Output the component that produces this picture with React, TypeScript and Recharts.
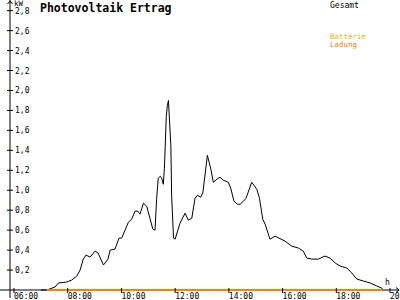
import { Line, LineChart, XAxis, YAxis } from "recharts";

document.body.style.margin = "0";

// Zeit in Stunden (dezimal) und Leistung in kW
const hours = [
  7.0, 7.22, 7.53, 7.65, 7.96, 8.15, 8.34, 8.46, 8.58, 8.68, 8.83, 9.02, 9.13, 9.33, 9.5, 9.58,
  9.76, 9.91, 10.01, 10.26, 10.38, 10.51, 10.61, 10.69, 10.82, 10.94, 11.17, 11.25, 11.31, 11.37,
  11.45, 11.5, 11.56, 11.6, 11.63, 11.67, 11.71, 11.75, 11.84, 11.87, 11.94, 12.0, 12.18, 12.37,
  12.49, 12.62, 12.74, 12.83, 12.95, 13.03, 13.2, 13.33, 13.42, 13.55, 13.67, 13.8, 13.98, 14.07,
  14.19, 14.32, 14.42, 14.54, 14.64, 14.85, 15.04, 15.14, 15.26, 15.35, 15.53, 15.72, 16.09,
  16.34, 16.59, 16.77, 16.9, 17.09, 17.33, 17.58, 17.77, 17.96, 18.14, 18.39, 18.58, 18.76,
  19.01, 19.26, 19.51, 19.69, 19.73,
];
const gesamt = [
  0, 0, 0.03, 0.07, 0.08, 0.1, 0.14, 0.2, 0.31, 0.35, 0.33, 0.39, 0.37, 0.25, 0.31, 0.4,
  0.41, 0.52, 0.52, 0.68, 0.71, 0.79, 0.79, 0.76, 0.87, 0.84, 0.61, 0.6, 0.91, 1.12,
  1.14, 1.12, 1.06, 1.22, 1.44, 1.74, 1.85, 1.9, 1.45, 0.94, 0.52, 0.51, 0.67, 0.77,
  0.7, 0.72, 0.92, 0.95, 0.93, 0.97, 1.35, 1.21, 1.08, 1.11, 1.13, 1.1, 1.08, 1.02,
  0.89, 0.86, 0.86, 0.89, 0.92, 1.08, 1.01, 0.92, 0.71, 0.66, 0.51, 0.54, 0.49,
  0.44, 0.42, 0.39, 0.32, 0.31, 0.31, 0.34, 0.32, 0.27, 0.24, 0.22, 0.17, 0.11,
  0.09, 0.07, 0.04, 0.02, 0,
];

// Batterie-Ladung (liegt den ganzen Tag auf 0)
const ladungHours = [7.22, 19.73];
const ladungValues = [0, 0];

const xTicks = [6, 8, 10, 12, 14, 16, 18, 20];
const yTicks = [0.2, 0.4, 0.6, 0.8, 1.0, 1.2, 1.4, 1.6, 1.8, 2.0, 2.2, 2.4, 2.6, 2.8];

const data = [
  ...hours.map((t, i) => ({ t, gesamt: gesamt[i] as number | null, ladung: null as number | null })),
  ...ladungHours.map((t, i) => ({ t: t + 0.0001, gesamt: null, ladung: ladungValues[i] })),
].sort((a, b) => a.t - b.t);

const FONT = "'DejaVu Sans Mono', monospace";

const formatHour = (h: number) => `${String(h).padStart(2, "0")}:00`;

const XTick = ({ x, y, payload }: any) => (
  <g>
    <line x1={x} x2={x} y1={y - 2} y2={y + 3} stroke="#000" />
    <text x={x} y={y + 9} fontSize={8} fontFamily={FONT} fill="#000" textAnchor="start">
      {formatHour(payload.value)}
    </text>
  </g>
);

const YTick = ({ x, y, payload }: any) => (
  <g>
    <line x1={x - 3} x2={x + 3} y1={y} y2={y} stroke="#000" />
    <text x={x + 5} y={y + 3} fontSize={8} fontFamily={FONT} fill="#000" textAnchor="start">
      {payload.value.toFixed(1).replace(".", ",")}
    </text>
  </g>
);

export default function App() {
  return (
    <div style={{ position: "relative", width: 400, height: 300, background: "#fff" }}>
      {/* Hintergrund: Achsenlinien, Pfeile, Titel, Legende */}
      <svg width={400} height={300} style={{ position: "absolute", left: 0, top: 0 }}>
        <line x1={0} x2={399} y1={290} y2={290} stroke="#000" />
        <line x1={10} x2={10} y1={0} y2={298} stroke="#000" />
        <polyline points="7.5,4 10,1 12.5,4" fill="none" stroke="#000" />
        <polyline points="396,287.5 399,290 396,292.5" fill="none" stroke="#000" />
        <text x={14} y={6} fontSize={7.5} fontFamily={FONT} fill="#000">kW</text>
        <text x={385} y={285} fontSize={8} fontFamily={FONT} fill="#000">h</text>
        <text x={40} y={12} fontSize={11.5} fontWeight="bold" fontFamily={FONT} fill="#000">
          Photovoltaik Ertrag
        </text>
        <text x={330} y={7.5} fontSize={8} fontFamily={FONT} fill="#000">Gesamt</text>
        <text x={330} y={39} fontSize={7.5} fontFamily={FONT} fill="#ffb000">Batterie</text>
        <text x={330} y={46.5} fontSize={7.5} fontFamily={FONT} fill="#ff8000">Ladung</text>
      </svg>
      <div style={{ position: "absolute", left: 0, top: 0 }}>
        <LineChart width={400} height={300} data={data} margin={{ top: 0, right: 0, bottom: 0, left: 0 }}>
          <XAxis
            dataKey="t"
            type="number"
            domain={[5.851, 20.372]}
            ticks={xTicks}
            height={10}
            tickSize={0}
            tickMargin={0}
            tickLine={false}
            axisLine={false}
            tick={<XTick />}
            interval={0}
          />
          <YAxis
            type="number"
            domain={[0, 2.907]}
            ticks={yTicks}
            width={10}
            tickSize={0}
            tickMargin={0}
            tickLine={false}
            axisLine={false}
            tick={<YTick />}
            interval={0}
          />
          <Line
            dataKey="gesamt"
            type="linear"
            stroke="#000"
            strokeWidth={1}
            dot={false}
            connectNulls
            isAnimationActive={false}
          />
          <Line
            dataKey="ladung"
            type="linear"
            stroke="#ff8000"
            strokeWidth={2}
            dot={false}
            connectNulls
            isAnimationActive={false}
          />
        </LineChart>
      </div>
    </div>
  );
}
